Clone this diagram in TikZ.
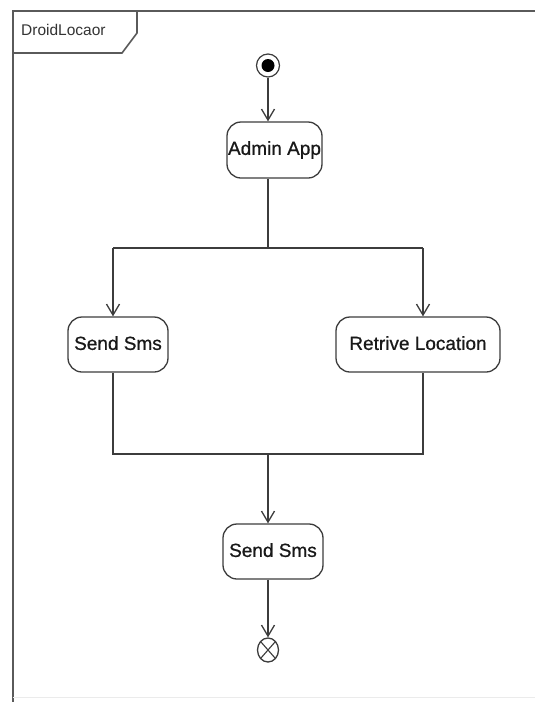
\documentclass[tikz,border=0pt]{standalone}
\usepackage{fontspec}
\setmainfont{Liberation Sans}
\newfontfamily\actfont[FakeBold=0.7]{Liberation Sans}
\usetikzlibrary{arrows.meta,shapes.geometric}
\definecolor{ln}{HTML}{3C3C3C}
\definecolor{fr}{HTML}{5A5A5A}
\tikzset{
  act/.style={draw=ln, line width=1.3pt, rounded corners=14pt, fill=white,
    inner sep=0pt, font=\actfont\fontsize{19}{22}\selectfont, text=black!90},
  flow/.style={draw=ln, line width=1.3pt},
  arr/.style={flow, -{Straight Barb[length=11pt,width=13pt,line width=1.3pt]}},
}
\begin{document}
\begin{tikzpicture}[x=1pt,y=-1pt]
\useasboundingbox (0,0) rectangle (535,702);
\fill[white] (0,0) rectangle (535,702);
% frame
\draw[fr, line width=2pt] (535,11) -- (13,11) -- (13,702);
\draw[fr, line width=1.6pt] (13,53) -- (122,53) -- (137,33) -- (137,11);
\node[anchor=west, inner sep=0pt, font=\fontsize{15.5}{18}\selectfont, text=black!80] (title) at (21,30) {DroidLocaor};
\draw[black!8, line width=1pt] (13,697) -- (535,697);
% initial node
\node[circle, draw=ln, line width=1.2pt, minimum size=23pt, inner sep=0pt] (init) at (268,65.5) {};
\node[circle, fill=black, minimum size=13pt, inner sep=0pt] (initdot) at (init) {};
% activities
\node[act, minimum width=95pt, minimum height=56pt] (admin) at (274.5,150) {\raisebox{4pt}{Admin App}};
\node[act, minimum width=100pt, minimum height=55pt] (sms1) at (118,344.5) {\raisebox{3pt}{Send Sms}};
\node[act, minimum width=164pt, minimum height=55pt] (ret) at (418,344.5) {\raisebox{3pt}{Retrive Location}};
\node[act, minimum width=100pt, minimum height=55pt] (sms2) at (273,551.5) {\raisebox{3pt}{Send Sms}};
% final node
\node[ellipse, draw=ln, line width=1.3pt, minimum width=21pt, minimum height=24pt, inner sep=0pt,
  path picture={\draw[ln, line width=1.1pt]
    (path picture bounding box.north west) -- (path picture bounding box.south east)
    (path picture bounding box.north east) -- (path picture bounding box.south west);}] (final) at (268,650) {};
% junction coordinates
\coordinate (j1) at (268,248);
\coordinate (j1l) at (113,248);
\coordinate (j1r) at (423,248);
\coordinate (j2) at (268,454);
\coordinate (j2l) at (113,454);
\coordinate (j2r) at (423,454);
% connectors
\draw[arr] (init) -- (admin.north -| init);
\draw[flow] (admin.south -| j1) -- (j1);
\draw[flow] (j1l) -- (j1r);
\draw[arr] (j1l) -- (sms1.north -| j1l);
\draw[arr] (j1r) -- (ret.north -| j1r);
\draw[flow] (sms1.south -| j2l) -- (j2l) -- (j2r) -- (ret.south -| j2r);
\draw[arr] (j2) -- (sms2.north -| j2);
\draw[arr] (sms2.south -| final) -- (final);
\end{tikzpicture}
\end{document}
